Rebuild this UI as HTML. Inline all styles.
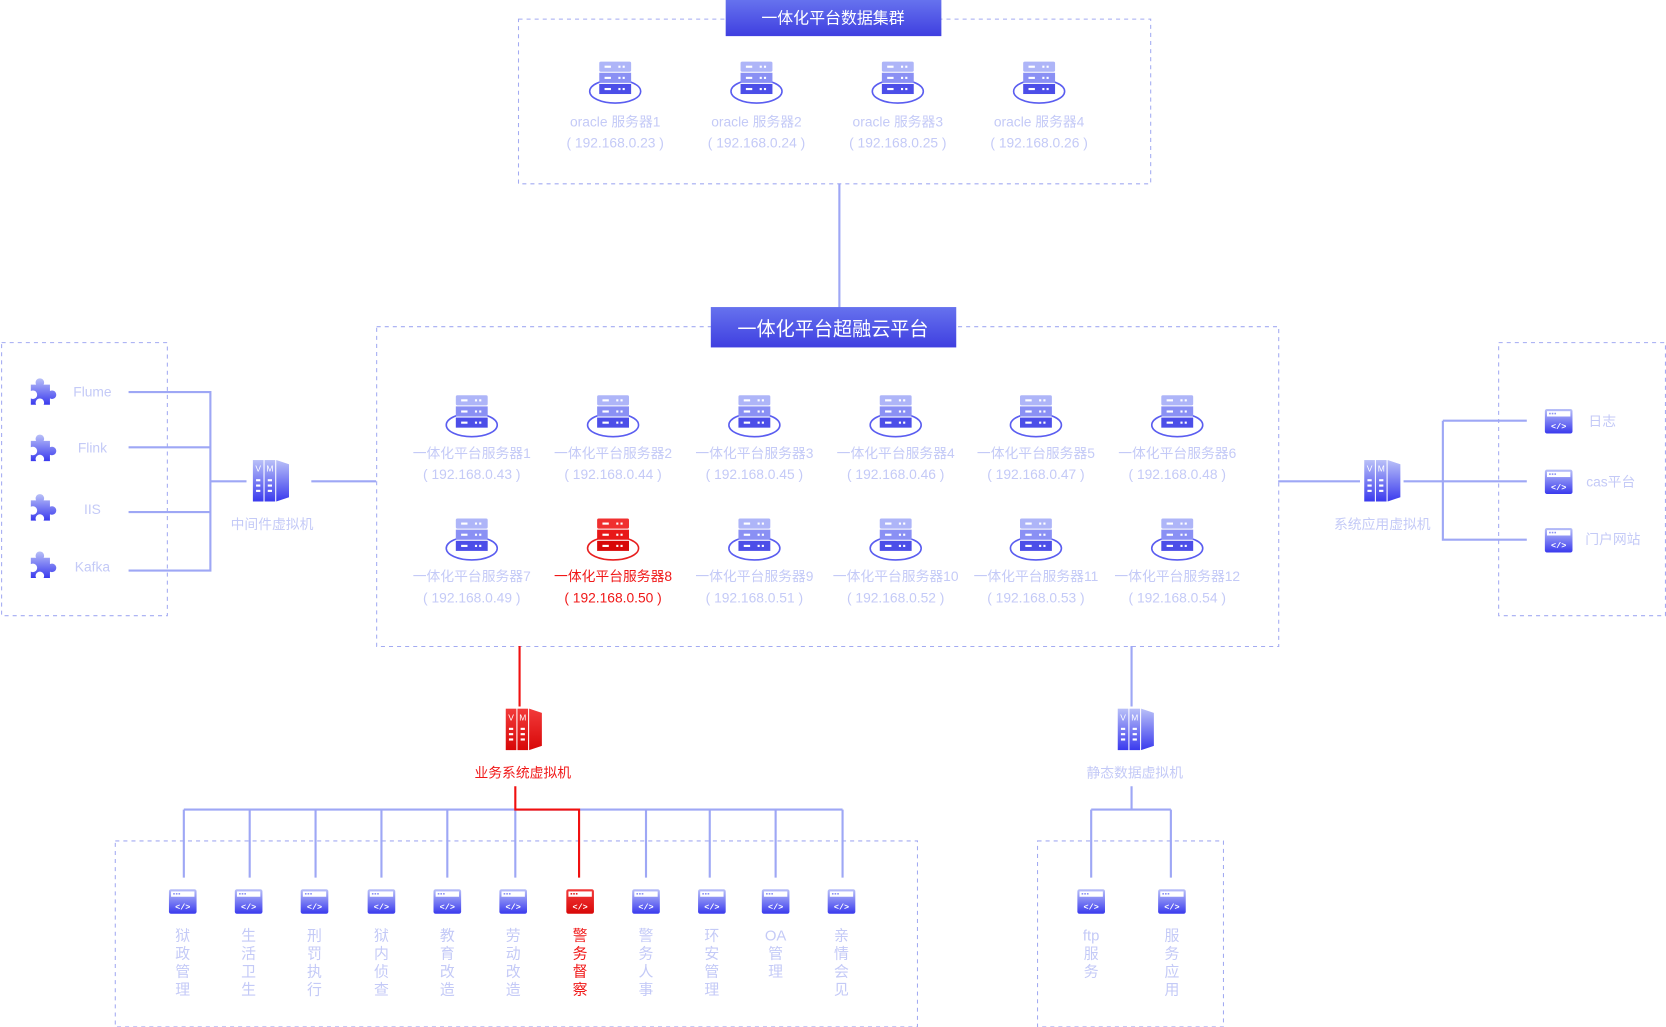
<!DOCTYPE html>
<html><head><meta charset="utf-8"><style>
html,body{margin:0;padding:0;background:#fff;overflow:hidden}
svg{display:block}
text{font-family:"Liberation Sans","Noto Sans CJK SC",sans-serif}
.l{fill:#c4caf7;font-size:13px;text-anchor:middle}
.r{fill:#f01818;font-size:13px;text-anchor:middle}
.v{fill:#c4caf7;font-size:14px;text-anchor:middle}
.vr{fill:#f01818;font-size:14px;text-anchor:middle}
.d{fill:none;stroke:#a3abf2;stroke-width:1;stroke-dasharray:3.8 3.8}
.ln{stroke:#9ea7f5;stroke-width:2;fill:none}
.rl{stroke:#f01010;stroke-width:2;fill:none}
.ci{fill:#fff;font-size:8px;font-weight:bold;text-anchor:middle;font-family:"Liberation Mono",monospace}
.vm{fill:#fff;font-size:8px;text-anchor:middle}
</style></head><body>
<svg width="1666" height="1027" viewBox="0 0 1568 966.6" xmlns="http://www.w3.org/2000/svg">
<defs>
<linearGradient id="tg" x1="0" y1="0" x2="0" y2="1"><stop offset="0" stop-color="#6672ee"/><stop offset="1" stop-color="#3f3fe0"/></linearGradient>
<linearGradient id="bg" x1="0" y1="0" x2="0" y2="1"><stop offset="0" stop-color="#b9c0f8"/><stop offset="1" stop-color="#3a3aee"/></linearGradient>
<linearGradient id="rg" x1="0" y1="0" x2="0" y2="1"><stop offset="0" stop-color="#f23a3a"/><stop offset="1" stop-color="#d80808"/></linearGradient>
<g id="srv">
<ellipse cx="0" cy="28" rx="24" ry="11" fill="none" stroke="#5a5df0" stroke-width="1.5"/>
<rect x="-15" y="0" width="30" height="9.5" rx="1.5" fill="#aeb5f8"/>
<rect x="-15" y="10.5" width="30" height="9.5" fill="#8a90f4"/>
<rect x="-15" y="21" width="30" height="9.5" fill="#4c4ee8"/>
<g fill="#fff"><rect x="-10" y="3.8" width="6" height="2"/><rect x="3" y="3.8" width="2" height="2"/><rect x="7" y="3.8" width="2" height="2"/>
<rect x="-10" y="14.3" width="6" height="2"/><rect x="3" y="14.3" width="2" height="2"/><rect x="7" y="14.3" width="2" height="2"/>
<rect x="-10" y="24.8" width="6" height="2"/><rect x="3" y="24.8" width="2" height="2"/><rect x="7" y="24.8" width="2" height="2"/></g>
</g>
<g id="srvr">
<ellipse cx="0" cy="28" rx="24" ry="11" fill="none" stroke="#e82020" stroke-width="1.5"/>
<rect x="-15" y="0" width="30" height="9.5" rx="1.5" fill="#f03030"/>
<rect x="-15" y="10.5" width="30" height="9.5" fill="#e81818"/>
<rect x="-15" y="21" width="30" height="9.5" fill="#d80808"/>
<g fill="#fff"><rect x="-10" y="3.8" width="6" height="2"/><rect x="3" y="3.8" width="2" height="2"/><rect x="7" y="3.8" width="2" height="2"/>
<rect x="-10" y="14.3" width="6" height="2"/><rect x="3" y="14.3" width="2" height="2"/><rect x="7" y="14.3" width="2" height="2"/>
<rect x="-10" y="24.8" width="6" height="2"/><rect x="3" y="24.8" width="2" height="2"/><rect x="7" y="24.8" width="2" height="2"/></g>
</g>
<g id="code"><rect x="-13" y="0" width="26" height="23" rx="2" fill="url(#bg)"/><rect x="-11" y="2" width="22" height="5" fill="#fff"/><g fill="#8a90f4"><rect x="-9" y="3.5" width="1.5" height="1.5"/><rect x="-6.5" y="3.5" width="1.5" height="1.5"/><rect x="-4" y="3.5" width="1.5" height="1.5"/></g></g>
<g id="coder"><rect x="-13" y="0" width="26" height="23" rx="2" fill="url(#rg)"/><rect x="-11" y="2" width="22" height="5" fill="#fff"/><g fill="#e02020"><rect x="-9" y="3.5" width="1.5" height="1.5"/><rect x="-6.5" y="3.5" width="1.5" height="1.5"/><rect x="-4" y="3.5" width="1.5" height="1.5"/></g></g>
<g id="vm"><rect x="0" y="0" width="10" height="39" fill="url(#bg)"/><rect x="11" y="0" width="10" height="39" fill="url(#bg)"/><path d="M22 0 L34 4 L34 35 L22 39Z" fill="url(#bg)"/>
<g fill="#fff"><rect x="3" y="18" width="4" height="2"/><rect x="3" y="23" width="4" height="2"/><rect x="3" y="28" width="4" height="2"/><rect x="14" y="18" width="4" height="2"/><rect x="14" y="23" width="4" height="2"/><rect x="14" y="28" width="4" height="2"/></g></g>
<g id="vmr"><rect x="0" y="0" width="10" height="39" fill="url(#rg)"/><rect x="11" y="0" width="10" height="39" fill="url(#rg)"/><path d="M22 0 L34 4 L34 35 L22 39Z" fill="url(#rg)"/>
<g fill="#fff"><rect x="3" y="18" width="4" height="2"/><rect x="3" y="23" width="4" height="2"/><rect x="3" y="28" width="4" height="2"/><rect x="14" y="18" width="4" height="2"/><rect x="14" y="23" width="4" height="2"/><rect x="14" y="28" width="4" height="2"/></g></g>
<path id="pz" d="M-12 -6 h5 a4 4 0 1 1 7 0 h6 v6 a4 4 0 1 1 0 7 v6 h-6 a4 4 0 1 0 -7 0 h-5 v-6 a4 4 0 1 0 0 -7z" fill="url(#bg)"/>
</defs>

<!-- boxes -->
<rect class="d" x="488" y="18" width="595" height="155"/>
<rect class="d" x="354.5" y="307.5" width="849" height="301"/>
<rect class="d" x="1.5" y="322.5" width="156" height="257"/>
<rect class="d" x="1410.5" y="322.5" width="157" height="257"/>
<rect class="d" x="108.5" y="791.5" width="755" height="175"/>
<rect class="d" x="976.5" y="791.5" width="175" height="175"/>

<!-- top cluster -->
<rect x="683" y="0" width="203" height="34" fill="url(#tg)"/>
<text x="784" y="22" fill="#fff" font-size="15" text-anchor="middle">一体化平台数据集群</text>
<use href="#srv" x="579" y="58"/><use href="#srv" x="712" y="58"/><use href="#srv" x="845" y="58"/><use href="#srv" x="978" y="58"/>
<text class="l" x="579" y="119">oracle 服务器1</text><text class="l" x="579" y="139">( 192.168.0.23 )</text>
<text class="l" x="712" y="119">oracle 服务器2</text><text class="l" x="712" y="139">( 192.168.0.24 )</text>
<text class="l" x="845" y="119">oracle 服务器3</text><text class="l" x="845" y="139">( 192.168.0.25 )</text>
<text class="l" x="978" y="119">oracle 服务器4</text><text class="l" x="978" y="139">( 192.168.0.26 )</text>
<line class="ln" x1="790" y1="173" x2="790" y2="290"/>

<!-- cloud -->
<rect x="669" y="289" width="231" height="38" fill="url(#tg)"/>
<text x="784" y="316" fill="#fff" font-size="18" text-anchor="middle">一体化平台超融云平台</text>
<use href="#srv" x="444" y="372"/><use href="#srv" x="577" y="372"/><use href="#srv" x="710" y="372"/><use href="#srv" x="843" y="372"/><use href="#srv" x="975" y="372"/><use href="#srv" x="1108" y="372"/>
<use href="#srv" x="444" y="488"/><use href="#srvr" x="577" y="488"/><use href="#srv" x="710" y="488"/><use href="#srv" x="843" y="488"/><use href="#srv" x="975" y="488"/><use href="#srv" x="1108" y="488"/>
<text class="l" x="444" y="431">一体化平台服务器1</text><text class="l" x="444" y="451">( 192.168.0.43 )</text>
<text class="l" x="577" y="431">一体化平台服务器2</text><text class="l" x="577" y="451">( 192.168.0.44 )</text>
<text class="l" x="710" y="431">一体化平台服务器3</text><text class="l" x="710" y="451">( 192.168.0.45 )</text>
<text class="l" x="843" y="431">一体化平台服务器4</text><text class="l" x="843" y="451">( 192.168.0.46 )</text>
<text class="l" x="975" y="431">一体化平台服务器5</text><text class="l" x="975" y="451">( 192.168.0.47 )</text>
<text class="l" x="1108" y="431">一体化平台服务器6</text><text class="l" x="1108" y="451">( 192.168.0.48 )</text>
<text class="l" x="444" y="547">一体化平台服务器7</text><text class="l" x="444" y="567">( 192.168.0.49 )</text>
<text class="r" x="577" y="547">一体化平台服务器8</text><text class="r" x="577" y="567">( 192.168.0.50 )</text>
<text class="l" x="710" y="547">一体化平台服务器9</text><text class="l" x="710" y="567">( 192.168.0.51 )</text>
<text class="l" x="843" y="547">一体化平台服务器10</text><text class="l" x="843" y="567">( 192.168.0.52 )</text>
<text class="l" x="975" y="547">一体化平台服务器11</text><text class="l" x="975" y="567">( 192.168.0.53 )</text>
<text class="l" x="1108" y="547">一体化平台服务器12</text><text class="l" x="1108" y="567">( 192.168.0.54 )</text>

<!-- left -->
<use href="#pz" x="41" y="368"/><use href="#pz" x="41" y="421"/><use href="#pz" x="41" y="477"/><use href="#pz" x="41" y="531"/>
<text class="l" x="87" y="373">Flume</text><text class="l" x="87" y="426">Flink</text><text class="l" x="87" y="484">IIS</text><text class="l" x="87" y="538">Kafka</text>
<path class="ln" d="M121 369 H198 M121 421 H198 M121 482 H198 M121 537 H198 M198 368 V538 M198 453 H232 M293 453 H354"/>
<use href="#vm" x="238" y="433"/>
<text class="l" x="256" y="498">中间件虚拟机</text>

<!-- right -->
<path class="ln" d="M1203 453 H1280 M1321 453 H1437 M1358 396 V509 M1358 396 H1437 M1358 508 H1437"/>
<use href="#vm" x="1284" y="433"/>
<text class="l" x="1301" y="498">系统应用虚拟机</text>
<use href="#code" x="1467" y="385"/><use href="#code" x="1467" y="442"/><use href="#code" x="1467" y="497"/>
<text class="ci" x="1467" y="404">&lt;/&gt;</text><text class="ci" x="1467" y="461">&lt;/&gt;</text><text class="ci" x="1467" y="516">&lt;/&gt;</text>
<text class="l" x="1508" y="401">日志</text><text class="l" x="1516" y="458">cas平台</text><text class="l" x="1518" y="512">门户网站</text>

<!-- business VM -->
<path class="ln" d="M173 762 H793 M173 762 V826 M235 762 V826 M297 762 V826 M359 762 V826 M421 762 V826 M485 762 V826 M608 762 V826 M668 762 V826 M730 762 V826 M793 762 V826"/>
<path class="rl" d="M489 608 V665 M485 740 V762 H545 V826"/>
<use href="#vmr" x="476" y="667"/>
<text class="vm" x="481" y="678">V</text><text class="vm" x="492" y="678">M</text>
<text class="r" x="492" y="732">业务系统虚拟机</text>

<g>
<use href="#code" x="172" y="837"/><use href="#code" x="234" y="837"/><use href="#code" x="296" y="837"/><use href="#code" x="359" y="837"/><use href="#code" x="421" y="837"/><use href="#code" x="483" y="837"/><use href="#coder" x="546" y="837"/><use href="#code" x="608" y="837"/><use href="#code" x="670" y="837"/><use href="#code" x="730" y="837"/><use href="#code" x="792" y="837"/>
<use href="#code" x="1027" y="837"/><use href="#code" x="1103" y="837"/>
</g>
<g>
<text class="ci" x="172" y="856">&lt;/&gt;</text><text class="ci" x="234" y="856">&lt;/&gt;</text><text class="ci" x="296" y="856">&lt;/&gt;</text><text class="ci" x="359" y="856">&lt;/&gt;</text><text class="ci" x="421" y="856">&lt;/&gt;</text><text class="ci" x="483" y="856">&lt;/&gt;</text><text class="ci" x="546" y="856">&lt;/&gt;</text><text class="ci" x="608" y="856">&lt;/&gt;</text><text class="ci" x="670" y="856">&lt;/&gt;</text><text class="ci" x="730" y="856">&lt;/&gt;</text><text class="ci" x="792" y="856">&lt;/&gt;</text><text class="ci" x="1027" y="856">&lt;/&gt;</text><text class="ci" x="1103" y="856">&lt;/&gt;</text>
</g>

<g>
<text class="v" x="172" y="885">狱</text><text class="v" x="172" y="902">政</text><text class="v" x="172" y="919">管</text><text class="v" x="172" y="936">理</text>
<text class="v" x="234" y="885">生</text><text class="v" x="234" y="902">活</text><text class="v" x="234" y="919">卫</text><text class="v" x="234" y="936">生</text>
<text class="v" x="296" y="885">刑</text><text class="v" x="296" y="902">罚</text><text class="v" x="296" y="919">执</text><text class="v" x="296" y="936">行</text>
<text class="v" x="359" y="885">狱</text><text class="v" x="359" y="902">内</text><text class="v" x="359" y="919">侦</text><text class="v" x="359" y="936">查</text>
<text class="v" x="421" y="885">教</text><text class="v" x="421" y="902">育</text><text class="v" x="421" y="919">改</text><text class="v" x="421" y="936">造</text>
<text class="v" x="483" y="885">劳</text><text class="v" x="483" y="902">动</text><text class="v" x="483" y="919">改</text><text class="v" x="483" y="936">造</text>
<text class="vr" x="546" y="885">警</text><text class="vr" x="546" y="902">务</text><text class="vr" x="546" y="919">督</text><text class="vr" x="546" y="936">察</text>
<text class="v" x="608" y="885">警</text><text class="v" x="608" y="902">务</text><text class="v" x="608" y="919">人</text><text class="v" x="608" y="936">事</text>
<text class="v" x="670" y="885">环</text><text class="v" x="670" y="902">安</text><text class="v" x="670" y="919">管</text><text class="v" x="670" y="936">理</text>
<text class="v" x="730" y="885">OA</text><text class="v" x="730" y="902">管</text><text class="v" x="730" y="919">理</text>
<text class="v" x="792" y="885">亲</text><text class="v" x="792" y="902">情</text><text class="v" x="792" y="919">会</text><text class="v" x="792" y="936">见</text>
<text class="v" x="1027" y="885">ftp</text><text class="v" x="1027" y="902">服</text><text class="v" x="1027" y="919">务</text>
<text class="v" x="1103" y="885">服</text><text class="v" x="1103" y="902">务</text><text class="v" x="1103" y="919">应</text><text class="v" x="1103" y="936">用</text>
</g>

<!-- static VM -->
<path class="ln" d="M1065 608 V665 M1065 740 V762 M1027 762 H1102 M1027 762 V826 M1102 762 V826"/>
<use href="#vm" x="1052" y="667"/>
<text class="l" x="1068" y="732">静态数据虚拟机</text>

<g class="vm">
<text x="243" y="444">V</text><text x="254" y="444">M</text>
<text x="1289" y="444">V</text><text x="1300" y="444">M</text>
<text x="1057" y="678">V</text><text x="1068" y="678">M</text>
</g>
</svg>
</body></html>
